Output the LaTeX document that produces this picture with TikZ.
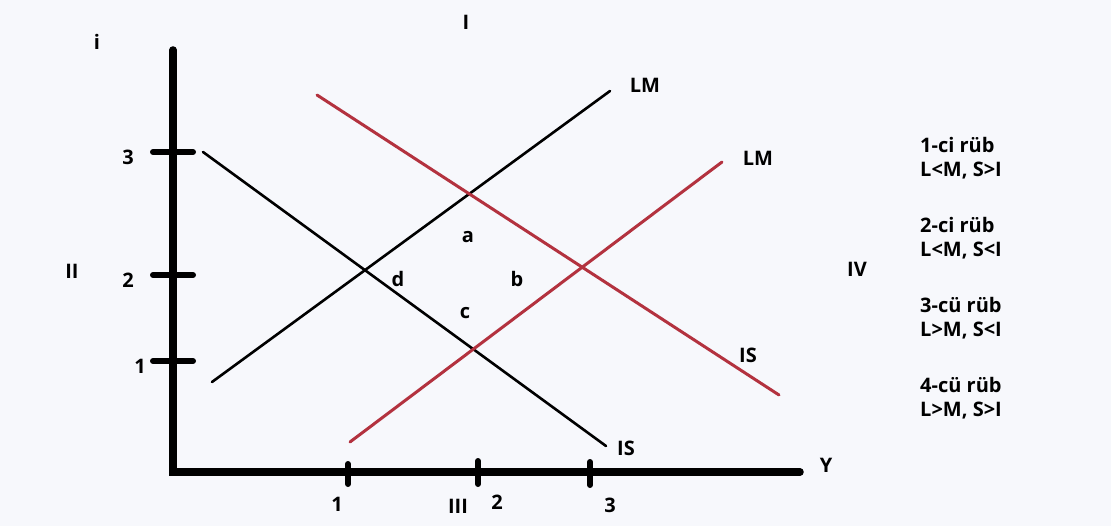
\documentclass[tikz,border=0pt]{standalone}
\usepackage{fontspec}
\setmainfont{Open Sans}
\begin{document}
\begin{tikzpicture}[x=1pt,y=-1pt,
  lbl/.style={font=\fontsize{20}{24}\bfseries\selectfont, text=black, inner sep=0pt},
  axis/.style={line width=7.5pt, line cap=round},
  tick/.style={line width=6pt, line cap=round},
  blk/.style={line width=2.6pt, line cap=round},
  redl/.style={line width=3pt, line cap=round, draw=redc}]
\definecolor{redc}{HTML}{B3323F}
\definecolor{bgc}{HTML}{F7F8FC}
\fill[bgc] (0,0) rectangle (1111,526);
\useasboundingbox (0,0) rectangle (1111,526);
% axes
\coordinate (O) at (173,472);
\coordinate (Ytop) at (173,50);
\coordinate (Xend) at (800,472);
\draw[axis] (Ytop) -- (O) -- (Xend);
% y ticks
\foreach \yy/\lab/\lx in {152/3/128, 275/2/128, 361/1/140}{
  \draw[tick] (153,\yy) -- (193,\yy);
  \node[lbl] at (\lx,\yy+5) {\lab};
}
% x ticks
\draw[tick] (348,464) -- (348,484);
\draw[tick] (478,461) -- (478,484);
\draw[tick] (590,462) -- (590,485);
\node[lbl] at (337,504) {1};
\node[lbl] at (497,502) {2};
\node[lbl] at (610,505) {3};
\node[lbl] at (458,506) {III};
% axis labels
\node[lbl] (ilab) at (97,42) {i};
\node[lbl] (Ylab) at (826,465) {Y};
\node[lbl] at (466,22) {I};
\node[lbl] at (72,271) {II};
\node[lbl] at (857,269) {IV};
% black curves
\coordinate (lm1a) at (212,382);
\coordinate (lm1b) at (610,91);
\draw[blk] (lm1a) -- (lm1b);
\node[lbl] (LM1) at (645,85) {LM};
\coordinate (is1a) at (203,152);
\coordinate (is1b) at (606,446);
\draw[blk] (is1a) -- (is1b);
\node[lbl] (IS1) at (626,448) {IS};
% red curves
\coordinate (is2a) at (317,95);
\coordinate (is2b) at (779,395);
\draw[redl] (is2a) -- (is2b);
\node[lbl] (IS2) at (748,355) {IS};
\coordinate (lm2a) at (350,442);
\coordinate (lm2b) at (722,162);
\draw[redl] (lm2a) -- (lm2b);
\node[lbl] (LM2) at (758,158) {LM};
% region labels
\node[lbl] at (468,237) {a};
\node[lbl] at (398,279) {d};
\node[lbl] at (517,279) {b};
\node[lbl] at (465,313) {c};
% legend
\foreach \yy/\ta/\tb in {145/1-ci rüb/{L<M, S>I}, 225/2-ci rüb/{L<M, S<I}, 305/3-cü rüb/{L>M, S<I}, 385/4-cü rüb/{L>M, S>I}}{
  \node[lbl, anchor=west] at (920,\yy) {\ta};
  \node[lbl, anchor=west] at (920,\yy+26) {\tb};
}
\end{tikzpicture}
\end{document}
